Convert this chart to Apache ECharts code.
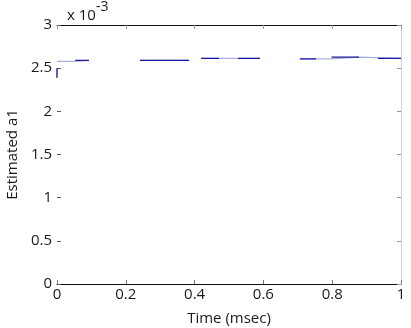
<!DOCTYPE html>
<html>
<head>
<meta charset="utf-8">
<script src="https://cdn.jsdelivr.net/npm/echarts@6/dist/echarts.min.js"></script>
<style>html,body{margin:0;padding:0;background:#fff}#c{width:411px;height:328px}</style>
</head>
<body>
<div id="c"></div>
<script>
// Estimated a1 (units of 1e-3) vs time (msec)
var timeLight = [0, 0.052, 0.053, 0.093, null, 0.241, 0.384, null, 0.419, 0.590, null, 0.706, 0.797, 0.798, 0.878, 0.879, 1.0];
var a1Light   = [2.578, 2.578, 2.590, 2.590, null, 2.590, 2.590, null, 2.613, 2.613, null, 2.608, 2.608, 2.628, 2.628, 2.613, 2.613];
var timeDark  = [0, 0, null, 0.053, 0.093, null, 0.241, 0.384, null, 0.419, 0.471, null, 0.526, 0.590, null, 0.706, 0.753, null, 0.798, 0.878, null, 0.933, 1.0];
var a1Dark    = [2.39, 2.50, null, 2.590, 2.590, null, 2.590, 2.590, null, 2.613, 2.613, null, 2.613, 2.613, null, 2.608, 2.608, null, 2.628, 2.628, null, 2.613, 2.613];
var xTicks = [0, 0.2, 0.4, 0.6, 0.8, 1];
var yTicks = [0, 0.5, 1, 1.5, 2, 2.5, 3];

function pairs(xs, ys) {
  var out = [];
  for (var i = 0; i < xs.length; i++) {
    out.push(xs[i] === null ? [null, null] : [xs[i], ys[i]]);
  }
  return out;
}
function fmt(v) { return String(Math.round(v * 10) / 10); }

var FONT = 'Open Sans';
var FS = 15;
var chart = echarts.init(document.getElementById('c'), null, {renderer: 'canvas'});
chart.setOption({
  animation: false,
  backgroundColor: '#fff',
  textStyle: {fontFamily: FONT},
  grid: {left: 57, right: 10, top: 25, bottom: 44, containLabel: false, outerBoundsMode: 'none'},
  xAxis: [{
    type: 'value', min: xTicks[0], max: xTicks[xTicks.length - 1], interval: 0.2,
    position: 'bottom',
    name: 'Time (msec)', nameLocation: 'middle', nameGap: 27,
    nameTextStyle: {fontFamily: FONT, fontSize: FS, color: '#1a1a1a'},
    axisLine: {onZero: false, lineStyle: {color: '#111', width: 1}},
    axisTick: {inside: true, length: 4, lineStyle: {color: '#777'}},
    axisLabel: {fontFamily: FONT, fontSize: FS, color: '#1a1a1a', margin: 3, formatter: fmt},
    splitLine: {show: false}
  }, {
    type: 'value', min: xTicks[0], max: xTicks[xTicks.length - 1], interval: 0.2,
    position: 'top',
    axisLine: {onZero: false, lineStyle: {color: '#111', width: 1}},
    axisTick: {inside: true, length: 4, lineStyle: {color: '#999'}},
    axisLabel: {show: false},
    splitLine: {show: false}
  }],
  yAxis: [{
    type: 'value', min: yTicks[0], max: yTicks[yTicks.length - 1], interval: 0.5,
    position: 'left',
    name: 'Estimated a1', nameLocation: 'middle', nameGap: 37, nameRotate: 90,
    nameTextStyle: {fontFamily: FONT, fontSize: FS, color: '#1a1a1a'},
    axisLine: {show: false, onZero: false},
    axisTick: {show: true, inside: true, length: 4, lineStyle: {color: '#555'}},
    axisLabel: {fontFamily: FONT, fontSize: FS, color: '#1a1a1a', margin: 5, formatter: fmt},
    splitLine: {show: false}
  }, {
    type: 'value', min: yTicks[0], max: yTicks[yTicks.length - 1], interval: 0.5,
    position: 'right',
    axisLine: {show: true, onZero: false, lineStyle: {color: '#d0d0d0', width: 1}},
    axisTick: {show: true, inside: true, length: 4, lineStyle: {color: '#999'}},
    axisLabel: {show: false},
    splitLine: {show: false}
  }],
  series: [{
    type: 'line', xAxisIndex: 0, yAxisIndex: 0,
    data: pairs(timeLight, a1Light),
    showSymbol: false, connectNulls: false,
    lineStyle: {color: '#a9b0e0', width: 1.2},
    silent: true
  }, {
    type: 'line', xAxisIndex: 0, yAxisIndex: 0,
    data: pairs(timeDark, a1Dark),
    showSymbol: false, connectNulls: false,
    lineStyle: {color: '#1a1a9c', width: 1.4},
    silent: true
  }],
  graphic: [{
    type: 'text', left: 67, top: 0,
    style: {
      text: '{a|x 10}{b|-3}',
      rich: {
        a: {fontFamily: FONT, fontSize: 15, fill: '#1a1a1a', padding: [8, 0, 0, 0]},
        b: {fontFamily: FONT, fontSize: 14, fill: '#1a1a1a', verticalAlign: 'top'}
      }
    }
  }]
});
</script>
</body>
</html>
